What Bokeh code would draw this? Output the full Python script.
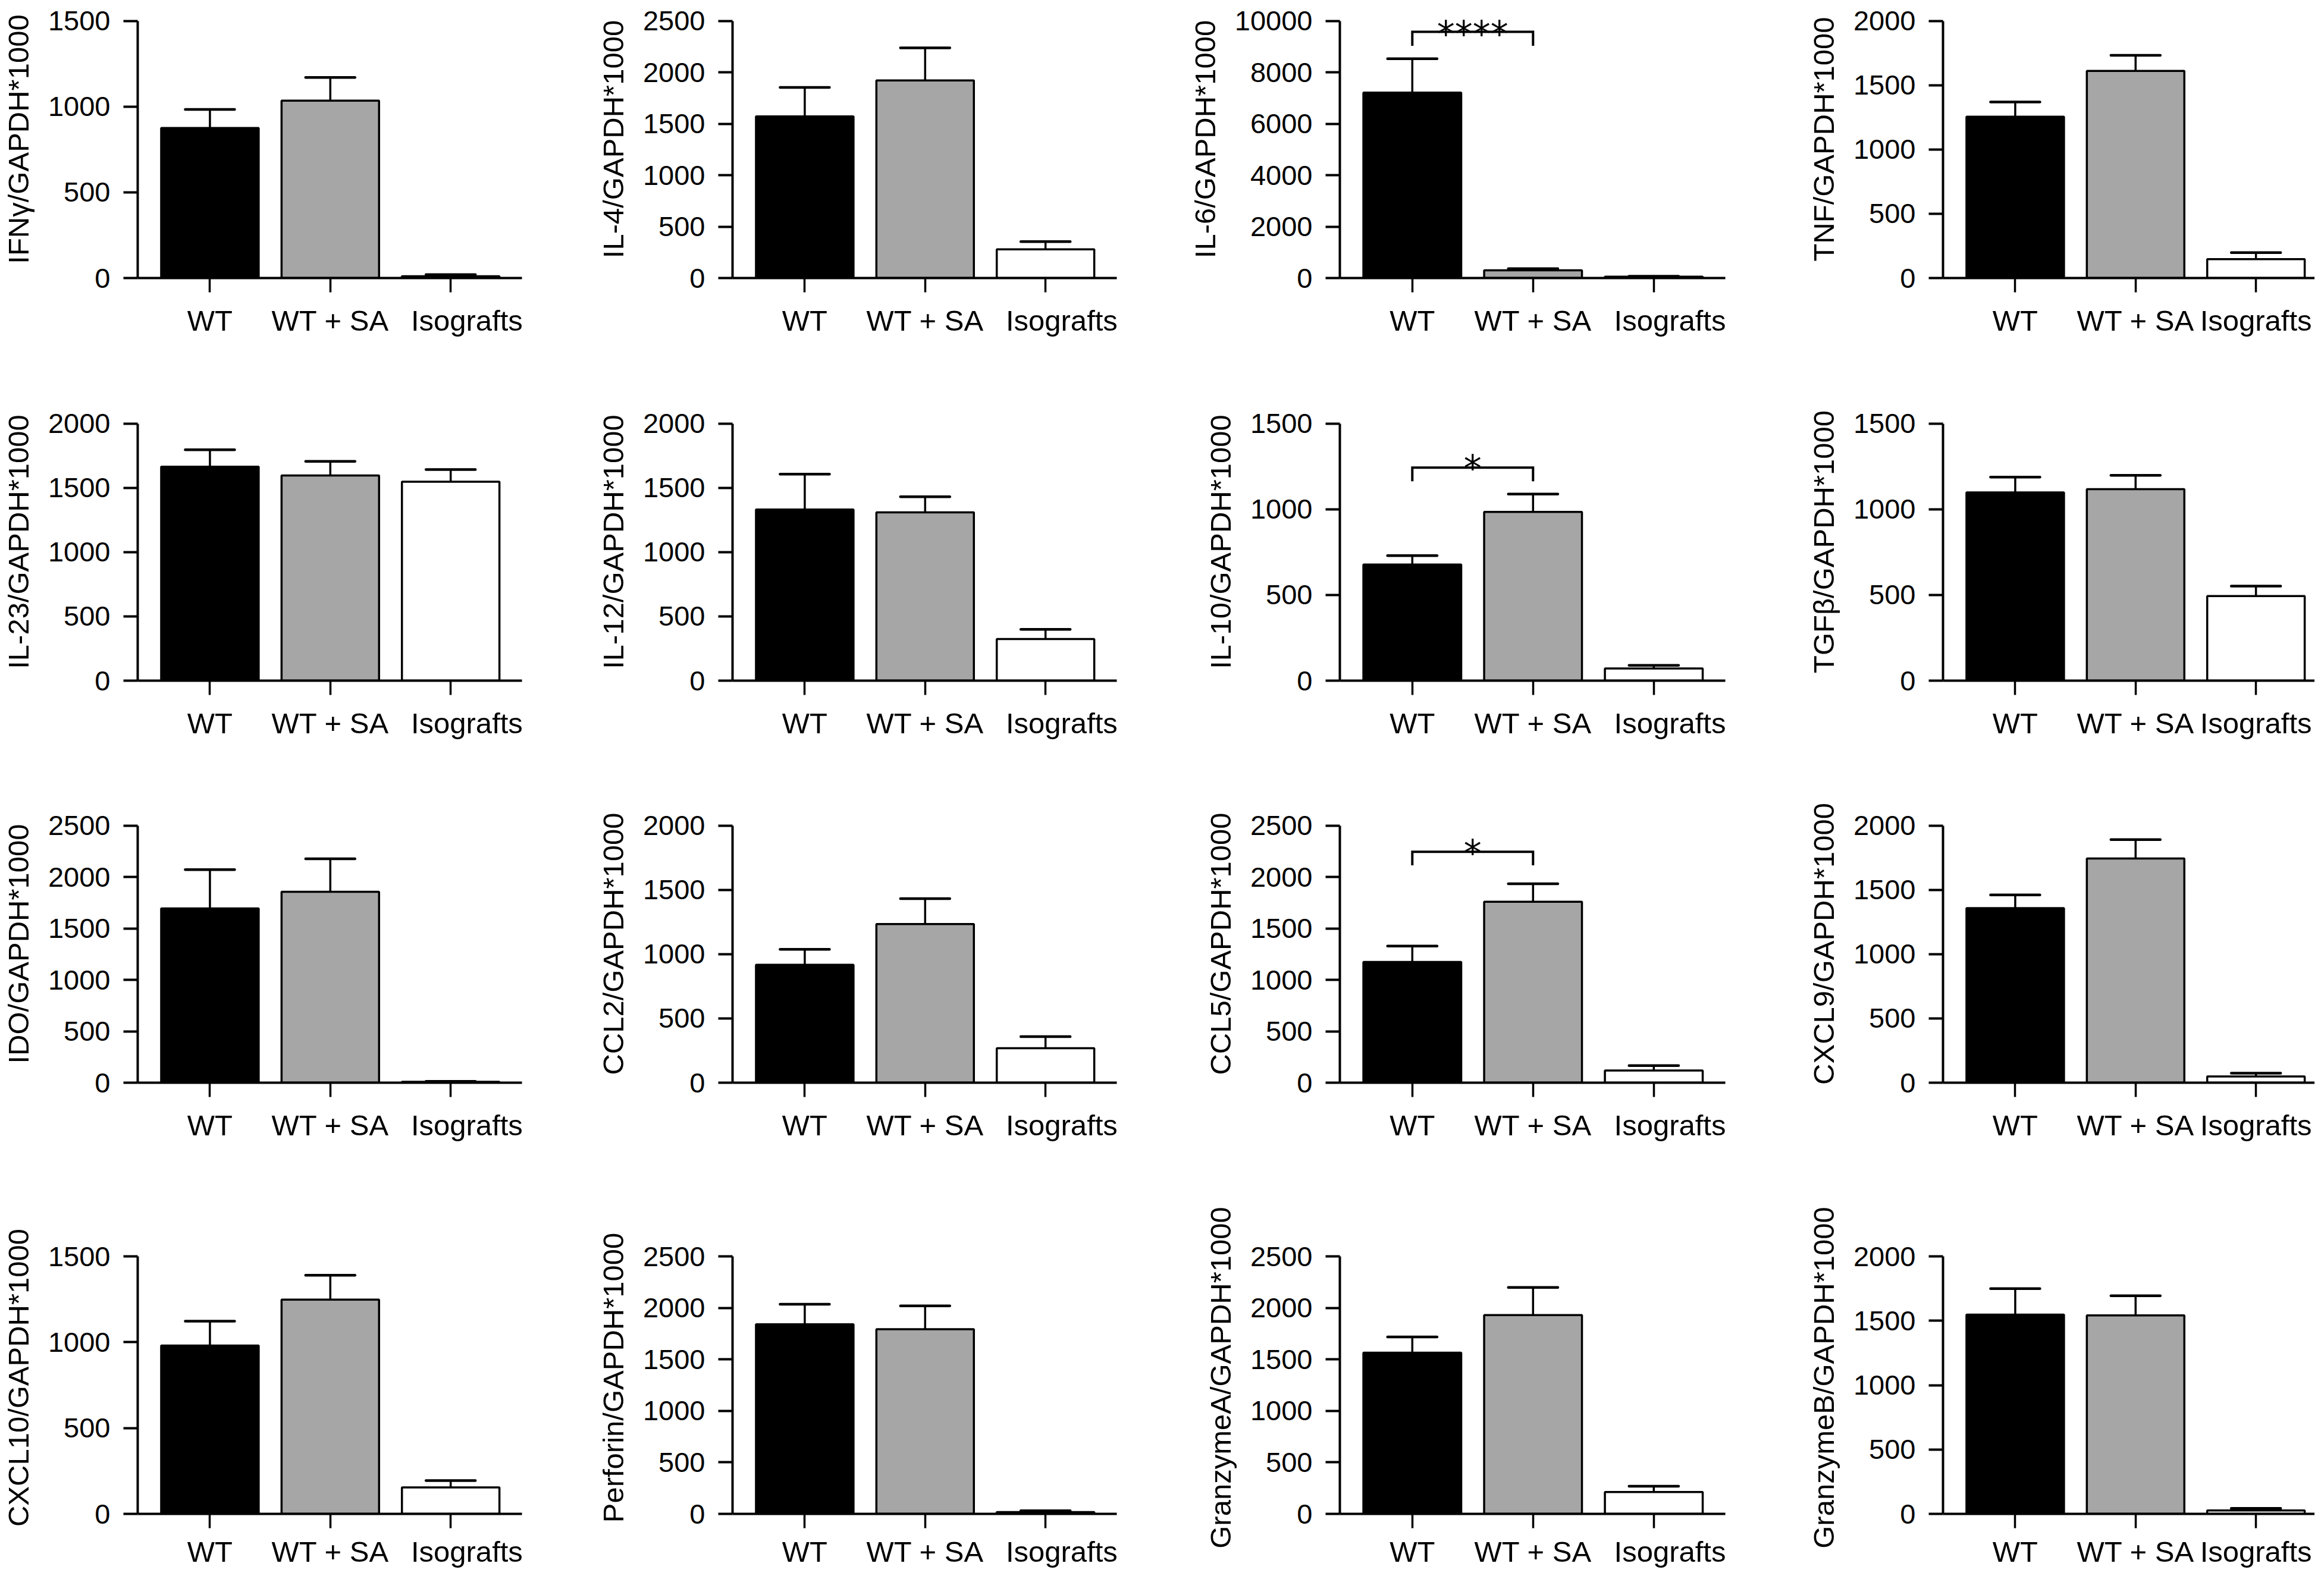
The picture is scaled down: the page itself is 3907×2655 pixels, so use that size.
from bokeh.plotting import figure
from bokeh.layouts import gridplot
from bokeh.models import Range1d, FixedTicker
from bokeh.core.properties import value
from bokeh.embed import file_html
from bokeh.resources import INLINE

# ---------------- data ----------------
groups = ["WT", "WT + SA", "Isografts"]
bar_colors = ["#000000", "#a6a6a6", "#ffffff"]

ifng_mean = [876, 1035, 10];      ifng_upper = [984, 1171, 20]
il4_mean = [1573, 1923, 279];     il4_upper = [1854, 2239, 355]
il6_mean = [7216, 302, 50];       il6_upper = [8535, 366, 70]
tnf_mean = [1255, 1612, 147];     tnf_upper = [1370, 1734, 198]
il23_mean = [1665, 1597, 1548];   il23_upper = [1797, 1707, 1643]
il12_mean = [1332, 1310, 324];    il12_upper = [1607, 1431, 399]
il10_mean = [678, 985, 71];       il10_upper = [730, 1089, 89]
tgfb_mean = [1099, 1118, 494];    tgfb_upper = [1188, 1199, 552]
ido_mean = [1696, 1858, 8];       ido_upper = [2073, 2179, 13]
ccl2_mean = [918, 1235, 269];     ccl2_upper = [1038, 1433, 359]
ccl5_mean = [1175, 1760, 118];    ccl5_upper = [1329, 1935, 166]
cxcl9_mean = [1358, 1745, 49];    cxcl9_upper = [1462, 1892, 74]
cxcl10_mean = [980, 1248, 154];   cxcl10_upper = [1122, 1390, 194]
perf_mean = [1840, 1793, 18];     perf_upper = [2035, 2019, 31]
gzma_mean = [1565, 1930, 212];    gzma_upper = [1717, 2199, 268]
gzmb_mean = [1547, 1542, 27];     gzmb_upper = [1750, 1694, 43]

titles = ["IFNγ/GAPDH*1000", "IL-4/GAPDH*1000", "IL-6/GAPDH*1000", "TNF/GAPDH*1000",
          "IL-23/GAPDH*1000", "IL-12/GAPDH*1000", "IL-10/GAPDH*1000", "TGFβ/GAPDH*1000",
          "IDO/GAPDH*1000", "CCL2/GAPDH*1000", "CCL5/GAPDH*1000", "CXCL9/GAPDH*1000",
          "CXCL10/GAPDH*1000", "Perforin/GAPDH*1000", "GranzymeA/GAPDH*1000", "GranzymeB/GAPDH*1000"]
y_max = [1500, 2500, 10000, 2000,
         2000, 2000, 1500, 1500,
         2500, 2000, 2500, 2000,
         1500, 2500, 2500, 2000]
y_step = [500, 500, 2000, 500,
          500, 500, 500, 500,
          500, 500, 500, 500,
          500, 500, 500, 500]
means = [ifng_mean, il4_mean, il6_mean, tnf_mean, il23_mean, il12_mean, il10_mean, tgfb_mean,
         ido_mean, ccl2_mean, ccl5_mean, cxcl9_mean, cxcl10_mean, perf_mean, gzma_mean, gzmb_mean]
uppers = [ifng_upper, il4_upper, il6_upper, tnf_upper, il23_upper, il12_upper, il10_upper, tgfb_upper,
          ido_upper, ccl2_upper, ccl5_upper, cxcl9_upper, cxcl10_upper, perf_upper, gzma_upper, gzmb_upper]

# significance brackets: panel index, bracket height, leg bottom, star baseline, stars
sig_panel = [2, 6, 10]
sig_height = [9580, 1244, 2247]
sig_leg = [9040, 1164, 2115]
sig_star_y = [9503, 1241, 2236]
sig_text = ["****", "*", "*"]

# ---------------- layout / style ----------------
FONT = "Liberation Sans"
STAR_FONT = "DejaVu Sans"
NBSP = "\u00a0"
last_label_pad = [4, 4, 4, 0]      # the last category label sits a little right of its bar
PX_PER_CAT = 203.0
AXIS_PX = 433.0                    # pixels from 0 to the top tick
col_width = [1000, 990, 1045, 856]
col_left = [229, 229, 262, 229]
col_frame = [648, 648, 648, 627]
row_top = [0, 109, 108, 166]
row_frame = [468, 468, 468, 458]
row_bottom = [100, 100, 100, 94]
row_label_standoff = [20, 20, 20, 12]

xs = [0, 1, 2]
figs = []
for r in range(4):
    row_figs = []
    for c in range(4):
        i = r * 4 + c
        top = y_max[i]
        fw = col_frame[c]
        fh = row_frame[r]
        x0 = -0.6
        x1 = x0 + fw / PX_PER_CAT
        p = figure(width=col_width[c], height=row_top[r] + fh + row_bottom[r],
                   x_range=Range1d(x0, x1), y_range=Range1d(0, top * fh / AXIS_PX),
                   output_backend="svg", toolbar_location=None,
                   min_border_left=col_left[c], min_border_right=col_width[c] - col_left[c] - fw,
                   min_border_top=row_top[r], min_border_bottom=row_bottom[r])
        p.outline_line_color = None
        p.xgrid.visible = False
        p.ygrid.visible = False
        p.background_fill_color = "white"
        p.border_fill_color = "white"

        p.vbar(x=xs, top=means[i], width=0.81, bottom=0, fill_color=bar_colors,
               line_color="black", line_width=3.5)
        # error bars (upper only)
        p.segment(x0=xs, y0=means[i], x1=xs, y1=uppers[i], line_color="black", line_width=3.5)
        p.segment(x0=[x - 0.205 for x in xs], y0=uppers[i], x1=[x + 0.205 for x in xs],
                  y1=uppers[i], line_color="black", line_width=4.5, line_cap="round")

        if i in sig_panel:
            k = sig_panel.index(i)
            p.line(x=[xs[0], xs[0], xs[1], xs[1]],
                   y=[sig_leg[k], sig_height[k], sig_height[k], sig_leg[k]],
                   line_color="black", line_width=4, line_join="miter")
            p.text(x=[(xs[0] + xs[1]) / 2], y=[sig_star_y[k]], text=[sig_text[k]],
                   text_font=value(STAR_FONT), text_font_size="60px", text_align="center",
                   text_baseline="alphabetic", text_color="black")

        labels = list(groups)
        labels[-1] = NBSP * last_label_pad[c] + labels[-1]

        xa = p.xaxis[0]
        xa.ticker = FixedTicker(ticks=xs)
        xa.major_label_overrides = {x: g for x, g in zip(xs, labels)}
        xa.major_tick_out = 24
        xa.major_tick_in = 0
        xa.minor_tick_line_color = None
        xa.axis_line_width = 4
        xa.major_tick_line_width = 3.5
        xa.major_label_text_font = FONT
        xa.major_label_text_font_size = "49px"
        xa.major_label_text_color = "black"
        xa.major_label_standoff = row_label_standoff[r]

        ya = p.yaxis[0]
        ya.ticker = FixedTicker(ticks=list(range(0, top + 1, y_step[i])))
        ya.bounds = (0, top)
        ya.major_tick_out = 24
        ya.major_tick_in = 0
        ya.minor_tick_line_color = None
        ya.axis_line_width = 4
        ya.major_tick_line_width = 4
        ya.major_label_text_font = FONT
        ya.major_label_text_font_size = "47px"
        ya.major_label_text_color = "black"
        ya.major_label_standoff = 22
        ya.axis_label = titles[i]
        ya.axis_label_text_font = FONT
        ya.axis_label_text_font_size = "49px"
        ya.axis_label_text_font_style = "normal"
        ya.axis_label_text_color = "black"
        ya.axis_label_standoff = 20
        row_figs.append(p)
    figs.append(row_figs)

grid = gridplot(figs, toolbar_location=None)
open("out.html", "w").write(file_html(grid, INLINE))
